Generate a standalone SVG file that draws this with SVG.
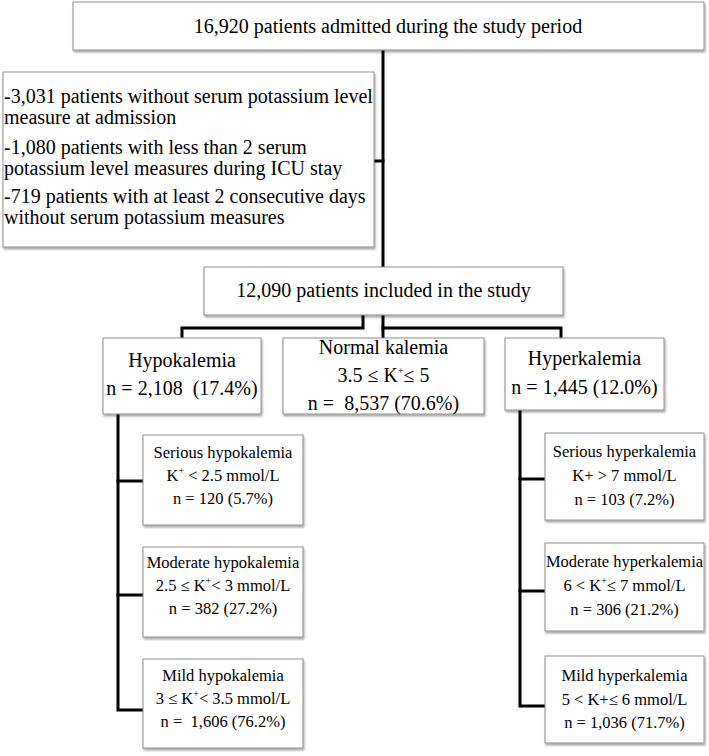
<svg xmlns="http://www.w3.org/2000/svg" width="709" height="756" viewBox="0 0 709 756">
<defs>
<filter id="sh" x="-5%" y="-5%" width="112%" height="125%">
<feDropShadow dx="1" dy="2" stdDeviation="1.3" flood-color="#000" flood-opacity="0.35"/>
</filter>
<style>
.box{fill:#fff;stroke:#8e8e8e;stroke-width:1;filter:url(#sh)}
text{font-family:"Liberation Serif","Times New Roman",serif;fill:#000}
.t20{font-size:20px}
.t16{font-size:16.5px}
.c{text-anchor:middle}
.con{fill:none;stroke:#000;stroke-width:3;stroke-linecap:square}
.sup{font-size:10px}
</style>
</defs>
<rect width="709" height="756" fill="#fff"/>
<g id="connectors">
<line class="con" x1="383" y1="51" x2="383" y2="266"/>
<line class="con" x1="375" y1="161" x2="383" y2="161"/>
<polyline class="con" points="363,316 363,328 182,328 182,337"/>
<line class="con" x1="383" y1="316" x2="383" y2="337"/>
<polyline class="con" points="383,328 561,328 561,337"/>
<polyline class="con" points="118,415 118,710 142,710"/>
<line class="con" x1="118" y1="481" x2="142" y2="481"/>
<line class="con" x1="118" y1="595" x2="142" y2="595"/>
<polyline class="con" points="520,411 520,706 544,706"/>
<line class="con" x1="520" y1="479" x2="544" y2="479"/>
<line class="con" x1="520" y1="591" x2="544" y2="591"/>
</g>
<g id="admitted">
<rect class="box" x="73" y="2" width="631" height="48"/>
<text class="t20 c" x="388" y="33">16,920 patients admitted during the study period</text>
</g>
<g id="excluded">
<rect class="box" x="3" y="72" width="371" height="175"/>
<text class="t20" x="4" y="103">-3,031 patients without serum potassium level</text>
<text class="t20" x="4" y="124">measure at admission</text>
<text class="t20" x="4" y="154">-1,080 patients with less than 2 serum</text>
<text class="t20" x="4" y="175">potassium level measures during ICU stay</text>
<text class="t20" x="4" y="203">-719 patients with at least 2 consecutive days</text>
<text class="t20" x="4" y="224">without serum potassium measures</text>
</g>
<g id="included">
<rect class="box" x="204" y="267" width="359" height="48"/>
<text class="t20 c" x="383.5" y="297">12,090 patients included in the study</text>
</g>
<g id="hypokalemia">
<rect class="box" x="103" y="338" width="158" height="76"/>
<text class="t20 c" x="182" y="367">Hypokalemia</text>
<text class="t20 c" x="182" y="395" xml:space="preserve">n = 2,108  (17.4%)</text>
</g>
<g id="normal">
<rect class="box" x="283" y="338" width="201" height="76"/>
<text class="t20 c" x="383.5" y="354">Normal kalemia</text>
<text class="t20 c" x="383.5" y="382">3.5 ≤ K<tspan class="sup" dy="-8">+</tspan><tspan dy="8">≤ 5</tspan></text>
<text class="t20 c" x="383.5" y="410" xml:space="preserve">n =  8,537 (70.6%)</text>
</g>
<g id="hyperkalemia">
<rect class="box" x="505" y="338" width="159" height="72"/>
<text class="t20 c" x="584.5" y="365">Hyperkalemia</text>
<text class="t20 c" x="584.5" y="394">n = 1,445 (12.0%)</text>
</g>
<g id="serious-hypo">
<rect class="box" x="143" y="435" width="160" height="90"/>
<text class="t16 c" x="223" y="458">Serious hypokalemia</text>
<text class="t16 c" x="223" y="481">K<tspan class="sup" dy="-7">+</tspan><tspan dy="7"> &lt; 2.5 mmol/L</tspan></text>
<text class="t16 c" x="223" y="504">n = 120 (5.7%)</text>
</g>
<g id="moderate-hypo">
<rect class="box" x="143" y="547" width="160" height="90"/>
<text class="t16 c" x="223" y="568">Moderate hypokalemia</text>
<text class="t16 c" x="223" y="591">2.5 ≤ K<tspan class="sup" dy="-7">+</tspan><tspan dy="7">&lt; 3 mmol/L</tspan></text>
<text class="t16 c" x="223" y="614">n = 382 (27.2%)</text>
</g>
<g id="mild-hypo">
<rect class="box" x="143" y="659" width="160" height="89"/>
<text class="t16 c" x="223" y="681">Mild hypokalemia</text>
<text class="t16 c" x="223" y="704">3 ≤ K<tspan class="sup" dy="-7">+</tspan><tspan dy="7">&lt; 3.5 mmol/L</tspan></text>
<text class="t16 c" x="223" y="727" xml:space="preserve">n =  1,606 (76.2%)</text>
</g>
<g id="serious-hyper">
<rect class="box" x="545" y="433" width="159" height="87"/>
<text class="t16 c" x="624.5" y="457">Serious hyperkalemia</text>
<text class="t16 c" x="624.5" y="481">K+ &gt; 7 mmol/L</text>
<text class="t16 c" x="624.5" y="505">n = 103 (7.2%)</text>
</g>
<g id="moderate-hyper">
<rect class="box" x="545" y="543" width="159" height="88"/>
<text class="t16 c" x="624.5" y="567">Moderate hyperkalemia</text>
<text class="t16 c" x="624.5" y="591">6 &lt; K<tspan class="sup" dy="-7">+</tspan><tspan dy="7">≤ 7 mmol/L</tspan></text>
<text class="t16 c" x="624.5" y="615">n = 306 (21.2%)</text>
</g>
<g id="mild-hyper">
<rect class="box" x="545" y="656" width="159" height="87"/>
<text class="t16 c" x="624.5" y="681">Mild hyperkalemia</text>
<text class="t16 c" x="624.5" y="705">5 &lt; K+≤ 6 mmol/L</text>
<text class="t16 c" x="624.5" y="728">n = 1,036 (71.7%)</text>
</g>
</svg>
